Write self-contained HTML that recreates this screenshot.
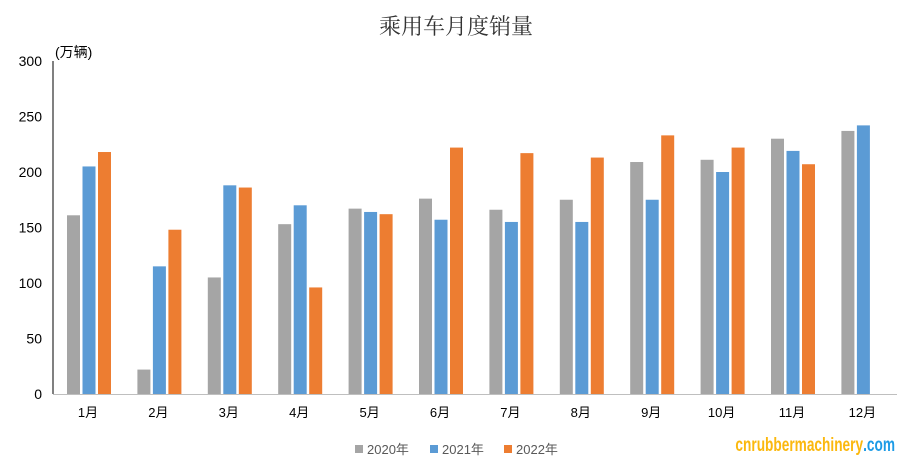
<!DOCTYPE html>
<html><head><meta charset="utf-8"><style>
body{margin:0;background:#fff;}
svg text{font-family:"Liberation Sans","Noto Sans CJK SC",sans-serif;}
</style></head><body>
<svg width="906" height="468" viewBox="0 0 906 468">
<rect width="906" height="468" fill="#fff"/>
<text x="456" y="34" text-anchor="middle" font-size="22" style="font-family:'Noto Serif CJK SC','Noto Sans CJK SC',serif" fill="#333">乘用车月度销量</text>
<text x="55" y="57" font-size="14" fill="#000">(万辆)</text>
<g id="yticks"></g>
<line x1="53" y1="61" x2="53" y2="394" stroke="#000" stroke-width="1"/>
<line x1="53" y1="394.5" x2="897" y2="394.5" stroke="#bfbfbf" stroke-width="1"/>
<g id="bars"></g>
<g id="xlabels"></g>
<g>
<rect x="355" y="445" width="8" height="8" fill="#a5a5a5"/>
<text x="367" y="454" font-size="13" fill="#595959">2020年</text>
<rect x="430" y="445" width="8" height="8" fill="#5b9bd5"/>
<text x="442" y="454" font-size="13" fill="#595959">2021年</text>
<rect x="504" y="445" width="8" height="8" fill="#ed7d31"/>
<text x="516" y="454" font-size="13" fill="#595959">2022年</text>
</g>
<text x="895" y="451" text-anchor="end" font-size="19" font-weight="bold" transform="translate(895 0) scale(0.72 1) translate(-895 0)"><tspan fill="#fbb80e">cnrubbermachinery</tspan><tspan fill="#1c9be6">.com</tspan></text>
</svg>
<script>
const categories=["1月","2月","3月","4月","5月","6月","7月","8月","9月","10月","11月","12月"];
const yTicks=[0,50,100,150,200,250,300];
const s2020=[161,22,105,153,167,176,166,175,209,211,230,237];
const s2021=[205,115,188,170,164,157,155,155,175,200,219,242];
const s2022=[218,148,186,96,162,222,217,213,233,222,207,null];
const NS="http://www.w3.org/2000/svg";
const y0=394,yTop=61,yMax=300;
function yScale(v){return y0-(v/yMax)*(y0-yTop);}
function xCenter(i){return 89+i*70.4;}
const yt=document.getElementById('yticks');
yTicks.forEach(t=>{const e=document.createElementNS(NS,'text');
e.setAttribute('x',42);e.setAttribute('y',yScale(t)+5);e.setAttribute('text-anchor','end');e.setAttribute('font-size','14');e.setAttribute('fill','#000');


e.textContent=t;yt.appendChild(e);});
const series=[[s2020,'#a5a5a5','2020'],[s2021,'#5b9bd5','2021'],[s2022,'#ed7d31','2022']];
const bg=document.getElementById('bars');const bw=13,step=15.5;
series.forEach((s,k)=>{s[0].forEach((v,i)=>{if(v==null)return;
const r=document.createElementNS(NS,'rect');
const cx=xCenter(i)+(k-1)*step;
r.setAttribute('x',cx-bw/2);r.setAttribute('y',yScale(v));r.setAttribute('width',bw);r.setAttribute('height',y0-yScale(v));r.setAttribute('fill',s[1]);


bg.appendChild(r);});});
const xl=document.getElementById('xlabels');
categories.forEach((c,i)=>{const e=document.createElementNS(NS,'text');
e.setAttribute('x',xCenter(i)-1);e.setAttribute('y',417);e.setAttribute('text-anchor','middle');e.setAttribute('font-size','13');e.setAttribute('fill','#000');


e.textContent=c;xl.appendChild(e);});
</script>
</body></html>
